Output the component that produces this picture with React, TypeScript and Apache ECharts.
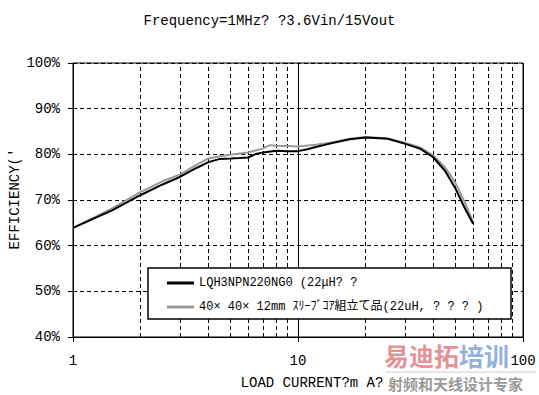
import React, { useEffect, useRef } from 'react';
import * as echarts from 'echarts';

const FONT = '"Liberation Mono", "Noto Sans CJK JP", monospace';

const titleText = 'Frequency=1MHz? ?3.6Vin/15Vout';
const xAxisName = 'LOAD CURRENT?m A?';
const yAxisName = "EFFICIENCY('";
const seriesNames = ['LQH3NPN220NG0 (22μH? ?', '40× 40× 12mm ｽﾘｰﾌﾞｺｱ組立て品(22uH, ? ? ? )'];

// Load current (mA) and efficiency (%) of LQH3NPN220NG0
const currentA = [1, 1.5, 2, 2.5, 3, 3.5, 4, 4.5, 5, 5.5, 6, 6.5, 7, 8, 9, 10, 11, 12, 14, 17, 20, 25, 30, 35, 40, 45, 50, 55, 60];
const effA = [63.9, 67.8, 71.1, 73.4, 75.1, 76.9, 78.3, 79.0, 79.1, 79.2, 79.3, 80.1, 80.4, 80.8, 80.7, 80.7, 81.1, 81.6, 82.4, 83.3, 83.7, 83.4, 82.3, 81.2, 79.3, 76.4, 72.6, 68.3, 64.8];

// Load current (mA) and efficiency (%) of sleeve-core assembly
const currentB = [1, 1.5, 2, 2.5, 3, 3.5, 4, 4.5, 5, 6, 7, 7.5, 8, 9, 10, 12, 14, 17, 20, 25, 30, 35, 40, 45, 50, 55, 60];
const effB = [63.9, 68.2, 71.8, 74.1, 75.6, 77.6, 79.1, 79.6, 79.9, 80.4, 81.3, 82.0, 81.9, 81.8, 81.7, 82.1, 82.6, 83.4, 83.8, 83.5, 82.5, 81.5, 79.7, 77.2, 73.8, 69.6, 65.2];

const minorGridX = [2, 3, 4, 5, 6, 7, 8, 9, 20, 30, 40, 50, 60, 70, 80, 90];
const yMin = 40;
const yMax = 100;
const yStep = 10;
const xMin = 1;
const xMax = 100;

export default function App() {
  const ref = useRef<HTMLDivElement>(null);
  useEffect(() => {
    if (!ref.current) return;
    const chart = echarts.init(ref.current, null, { renderer: 'svg' });
    chart.setOption({
      animation: false,
      backgroundColor: '#fff',
      textStyle: { fontFamily: FONT },
      grid: {
        left: 73, right: 16, top: 63, bottom: 58,
        show: true, borderColor: '#000', borderWidth: 1, backgroundColor: 'transparent',
      },
      xAxis: {
        type: 'log', logBase: 10, min: xMin, max: xMax,
        axisLine: { show: true, lineStyle: { color: '#000', width: 1 } },
        axisTick: { show: true, length: 5, lineStyle: { color: '#000' } },
        axisLabel: { color: '#000', fontFamily: FONT, fontSize: 14, margin: 17 },
        splitLine: { show: true, lineStyle: { color: '#000', width: 1, type: 'solid' } },
      },
      yAxis: {
        type: 'value', min: yMin, max: yMax, interval: yStep,
        axisLine: { show: true, lineStyle: { color: '#000', width: 1 } },
        axisTick: { show: true, length: 5, lineStyle: { color: '#000' } },
        axisLabel: { color: '#000', fontFamily: FONT, fontSize: 14, margin: 13, formatter: '{value}%' },
        splitLine: { show: true, lineStyle: { color: '#000', width: 1, type: [4, 3] } },
      },
      legend: {
        orient: 'vertical', left: 167, top: 276, z: 12, padding: 0,
        itemWidth: 27, itemHeight: 3, itemGap: 10, icon: 'rect',
        textStyle: { color: '#000', fontFamily: FONT, fontSize: 12, lineHeight: 14 },
        itemStyle: { borderWidth: 0 },
        data: seriesNames,
      },
      graphic: [
        { type: 'text', left: 'center', top: 14, style: { text: titleText, font: `14px ${FONT}`, fill: '#000' } },
        { type: 'text', x: 312, y: 383, style: { text: xAxisName, font: `14px ${FONT}`, fill: '#000', align: 'center', verticalAlign: 'middle' } },
        { type: 'text', x: 15, y: 199, rotation: Math.PI / 2, style: { text: yAxisName, font: `14px ${FONT}`, fill: '#000', align: 'center', verticalAlign: 'middle' } },
        { type: 'rect', z: 10, shape: { x: 148, y: 268, width: 363, height: 51 }, style: { fill: '#fff', stroke: '#000', lineWidth: 1.5 } },
        { type: 'text', z: -1, x: 384, y: 355, style: { text: '易迪拓', font: 'bold 25px "Noto Sans CJK SC"', fill: 'rgba(222,110,110,0.75)', verticalAlign: 'middle' } },
        { type: 'text', z: -1, x: 459, y: 355, style: { text: '培训', font: 'bold 25px "Noto Sans CJK SC"', fill: 'rgba(110,150,205,0.75)', verticalAlign: 'middle' } },
        { type: 'line', z: -1, shape: { x1: 385, y1: 372, x2: 536, y2: 372 }, style: { stroke: '#ccc', lineWidth: 1 } },
        { type: 'text', z: -1, x: 388, y: 383, style: { text: '射频和天线设计专家', font: 'bold 15px "Noto Sans CJK SC"', fill: '#9a9a9a', verticalAlign: 'middle' } },
      ],
      series: [
        {
          name: seriesNames[0], type: 'line', showSymbol: false, symbol: 'none', z: 3,
          lineStyle: { color: '#000', width: 2 }, itemStyle: { color: '#000' },
          data: currentA.map((x, i) => [x, effA[i]]),
          markLine: {
            silent: true, symbol: ['none', 'none'], label: { show: false }, z: 1,
            lineStyle: { color: '#000', width: 1, type: [4, 3] },
            data: minorGridX.map((v) => ({ xAxis: v })),
          },
        },
        {
          name: seriesNames[1], type: 'line', showSymbol: false, symbol: 'none', z: 2,
          lineStyle: { color: '#999', width: 2 }, itemStyle: { color: '#999' },
          data: currentB.map((x, i) => [x, effB[i]]),
        },
      ],
    });
    return () => chart.dispose();
  }, []);
  return <div ref={ref} style={{ position: 'fixed', left: 0, top: 0, width: 539, height: 395 }} />;
}
